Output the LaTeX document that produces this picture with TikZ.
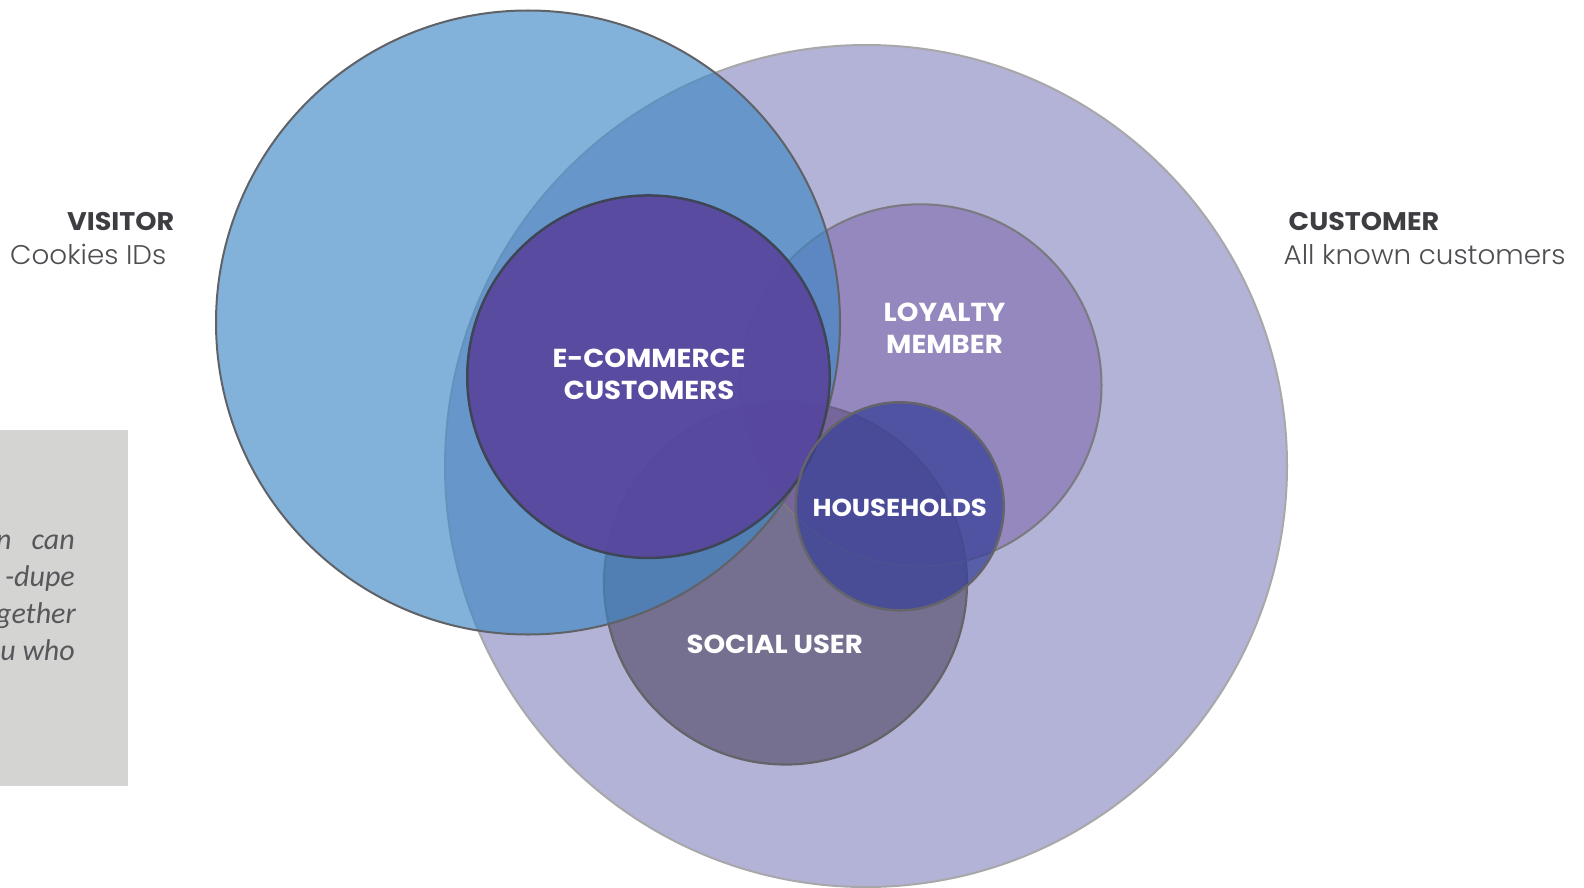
\documentclass[tikz,border=0pt]{standalone}
\usepackage{fontspec}
\setmainfont{Poppins}
\newfontfamily\labelfont{Poppins Bold}[FakeStretch=1.06]
\newfontfamily\lightfont{Poppins Light}[FakeStretch=1.03]
\newfontfamily\notefont{Carlito}
\definecolor{custfill}{RGB}{179,179,215}
\definecolor{custline}{RGB}{168,168,170}
\definecolor{visfill}{RGB}{63,135,198}
\definecolor{visline}{RGB}{96,98,102}
\definecolor{ecomfill}{RGB}{88,66,155}
\definecolor{ecomline}{RGB}{62,70,86}
\definecolor{loyfill}{RGB}{121,95,167}
\definecolor{loyline}{RGB}{122,122,128}
\definecolor{socfill}{RGB}{77,67,97}
\definecolor{socline}{RGB}{100,100,104}
\definecolor{hhfill}{RGB}{58,66,152}
\definecolor{hhline}{RGB}{100,100,106}
\definecolor{boxgray}{RGB}{212,213,211}
\definecolor{headtext}{RGB}{62,62,66}
\definecolor{subtext}{RGB}{78,78,82}
\definecolor{notetext}{RGB}{88,88,92}
\tikzset{
  setcircle/.style={circle, inner sep=0pt, outer sep=0pt},
  headlabel/.style={inner sep=0pt, text=headtext, font=\labelfont\fontsize{25.5}{30}\selectfont},
  sublabel/.style={inner sep=0pt, text=subtext, font=\lightfont\fontsize{27}{31}\selectfont},
  inlabel/.style={inner sep=0pt, text=white, anchor=base, font=\labelfont\fontsize{26}{31}\selectfont},
  notelabel/.style={inner sep=0pt, text=notetext, font=\notefont\itshape\fontsize{30}{37}\selectfont, anchor=base east}
}
\begin{document}
\begin{tikzpicture}[x=1pt,y=-1pt]
\useasboundingbox (0,0) rectangle (1584,888);
\begin{scope}
\clip (0,0) rectangle (1584,888);
% note box
\node[fill=boxgray, minimum width=127.5pt, minimum height=356pt, inner sep=0pt, anchor=north west] (notebox) at (0,430) {};
\node[notelabel] (note1) at (75,549) {n\hspace{20pt}can};
\node[notelabel] (note2) at (75,586) {-dupe};
\node[notelabel] (note3) at (76,623) {gether};
\node[notelabel] (note4) at (75,660) {u who};
% circles
\node[setcircle, minimum size=842pt, fill=custfill, draw=custline, line width=2pt] (customer) at (866,466) {};
\node[setcircle, minimum size=363pt, fill=socfill, fill opacity=0.6, draw=socline, line width=2.2pt] (social) at (785.5,583) {};
\node[setcircle, minimum size=362pt, fill=loyfill, fill opacity=0.5, draw=loyline, line width=2pt] (loyalty) at (920.5,385.3) {};
\node[setcircle, minimum size=624pt, fill=visfill, fill opacity=0.65, draw=visline, line width=2pt] (visitor) at (528,322.5) {};
\node[setcircle, minimum size=362.5pt, fill=ecomfill, fill opacity=0.88, draw=ecomline, line width=2.5pt] (ecom) at (648.5,376.7) {};
\node[setcircle, minimum size=208pt, fill=hhfill, fill opacity=0.75, draw=hhline, line width=2.5pt] (house) at (899.7,506.3) {};
\end{scope}
% outer labels
\node[headlabel, anchor=base east] (vistitle) at (174.5,230.7) {VISITOR};
\node[sublabel, anchor=base east] (vissub) at (166.5,264) {Cookies IDs};
\node[headlabel, anchor=base west] (custtitle) at (1288.5,230.7) {CUSTOMER};
\node[sublabel, anchor=base west] (custsub) at (1283.5,264) {All known customers};
% inner labels
\node[inlabel] (ecomlabelA) at (649,367.5) {E-COMMERCE};
\node[inlabel] (ecomlabelB) at (649,399) {CUSTOMERS};
\node[inlabel] (loylabelA) at (944.5,321.7) {LOYALTY};
\node[inlabel] (loylabelB) at (944.5,353.3) {MEMBER};
\node[inlabel, font=\labelfont\fontsize{24.5}{29}\selectfont] (hhlabel) at (899.7,516.8) {HOUSEHOLDS};
\node[inlabel] (soclabel) at (774.7,653.7) {SOCIAL USER};
\end{tikzpicture}
\end{document}
